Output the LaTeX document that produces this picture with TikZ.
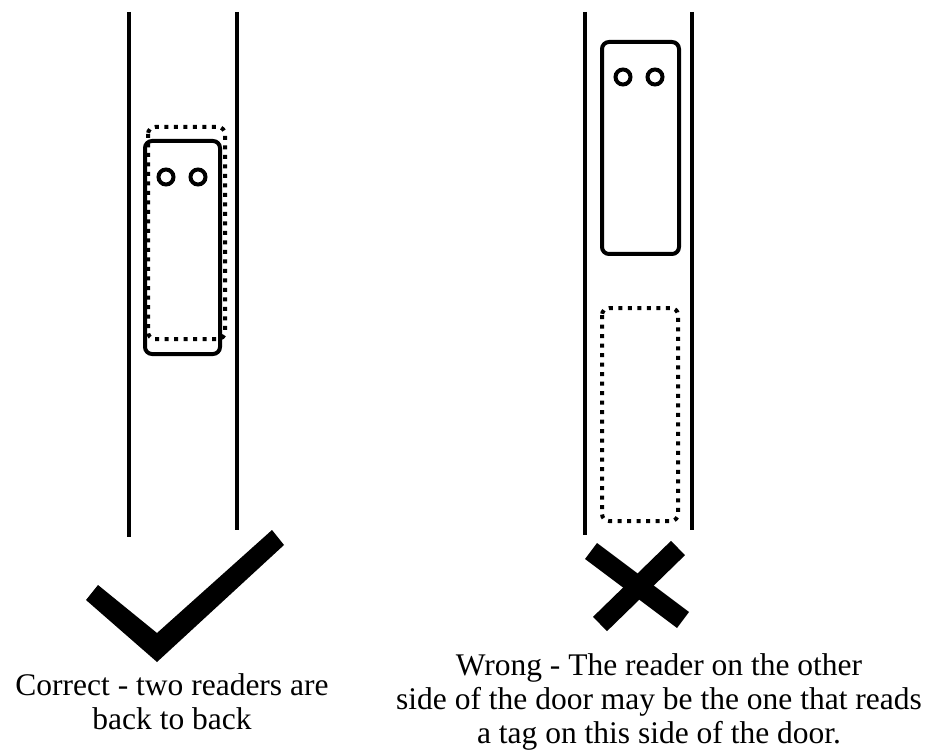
\documentclass[tikz,border=0pt]{standalone}
\usepackage{fontspec}
\setmainfont{Liberation Serif}
\begin{document}
\begin{tikzpicture}[x=1pt,y=-1pt,
  doorline/.style={line width=4pt},
  reader/.style={line width=4pt,rounded corners=7pt},
  ghost/.style={line width=4pt,rounded corners=7pt,dash pattern=on 4pt off 5.5pt},
  led/.style={line width=4pt},
  tickmark/.style={fill=black},
  crossbar/.style={line width=20pt},
  caption/.style={font=\fontsize{31.5}{34}\selectfont,inner sep=0pt,anchor=base}]
\useasboundingbox (0,0) rectangle (931,751);
% left door
\draw[doorline] (129,12) -- (129,537);
\draw[doorline] (237,12) -- (237,530);
\draw[ghost] (148,127) rectangle (225,339);
\draw[reader] (145,141) rectangle (220,354);
\draw[led] (166,177) circle (7.5);
\draw[led] (198,177) circle (7.5);
% right door
\draw[doorline] (585,12) -- (585,535);
\draw[doorline] (692,12) -- (692,530);
\draw[reader] (602,42) rectangle (679,254);
\draw[led] (623,77) circle (7.5);
\draw[led] (655,77) circle (7.5);
\draw[ghost] (602,308) rectangle (678,521);
% check mark
\fill[tickmark] (86,600) -- (98,585) -- (157,633) -- (272,530) -- (284,545) -- (157,662) -- cycle;
% cross
\draw[crossbar] (591,551) -- (683,620);
\draw[crossbar] (600,624) -- (678,548);
% captions
\node[caption] (l1) at (172,695) {Correct - two readers are};
\node[caption] (l2) at (172,729) {back to back};
\node[caption] (r1) at (659,675) {Wrong - The reader on the other};
\node[caption] (r2) at (659,709) {side of the door may be the one that reads};
\node[caption] (r3) at (659,743) {a tag on this side of the door.};
\end{tikzpicture}
\end{document}
